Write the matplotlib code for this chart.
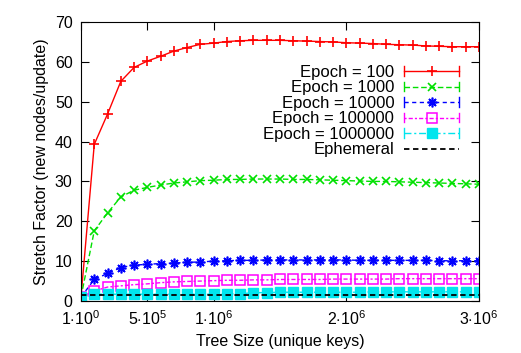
import numpy as np
import matplotlib
matplotlib.use("Agg")
import matplotlib.pyplot as plt
from matplotlib.lines import Line2D
from matplotlib.legend_handler import HandlerLine2D

plt.rcParams['font.family'] = ['Liberation Sans', 'DejaVu Sans']
plt.rcParams['mathtext.fontset'] = 'custom'
plt.rcParams['mathtext.rm'] = 'Liberation Sans'
plt.rcParams['mathtext.it'] = 'Liberation Sans'

# tree size: 1, then every 100k keys up to 3M
tree_size = [1] + [k * 100000 for k in range(1, 31)]

epoch_100 = [1.0, 39.3, 46.9, 55.1, 58.6, 60.2, 61.4, 62.7, 63.6, 64.4, 64.7,
             65.1, 65.3, 65.4, 65.4, 65.4, 65.3, 65.2, 65.1, 65.0, 64.8,
             64.7, 64.6, 64.4, 64.3, 64.2, 64.0, 63.9, 63.8, 63.8, 63.8]
epoch_1000 = [1.0, 17.6, 22.1, 26.1, 27.8, 28.5, 29.1, 29.6, 29.9, 30.2, 30.3,
              30.5, 30.5, 30.6, 30.6, 30.6, 30.5, 30.5, 30.4, 30.3, 30.2,
              30.1, 30.0, 30.0, 29.9, 29.8, 29.7, 29.6, 29.5, 29.4, 29.3]
epoch_10000 = [1.0, 5.4, 6.9, 8.4, 9.0, 9.2, 9.4, 9.5, 9.7, 9.8, 10.0,
               10.1, 10.2, 10.2, 10.3, 10.3, 10.3, 10.3, 10.3, 10.3, 10.3,
               10.2, 10.2, 10.2, 10.2, 10.2, 10.2, 10.1, 10.1, 10.1, 10.1]
epoch_100000 = [1.0, 2.5, 3.5, 3.8, 4.1, 4.3, 4.6, 4.8, 4.9, 5.0, 5.1,
                5.2, 5.2, 5.3, 5.3, 5.4, 5.4, 5.4, 5.4, 5.5, 5.5,
                5.5, 5.5, 5.5, 5.6, 5.6, 5.6, 5.6, 5.6, 5.6, 5.6]
epoch_1000000 = [1.0, 1.7, 1.7, 1.7, 1.7, 1.7, 1.7, 1.7, 1.7, 1.7, 1.7,
                 1.8, 1.8, 2.1, 2.1, 2.2, 2.2, 2.2, 2.2, 2.2, 2.2,
                 2.2, 2.3, 2.3, 2.3, 2.3, 2.3, 2.3, 2.3, 2.3, 2.3]
ephemeral = [1.6] * 31

xticks = [0, 500000, 1000000, 2000000, 3000000]
xticklabels = [r'$1{\cdot}10^{0}$', r'$5{\cdot}10^{5}$', r'$1{\cdot}10^{6}$',
               r'$2{\cdot}10^{6}$', r'$3{\cdot}10^{6}$']


class CapHandler(HandlerLine2D):
    # gnuplot style errorlines key: line with small vertical caps at the ends
    def create_artists(self, legend, orig_handle, xdescent, ydescent,
                       width, height, fontsize, trans):
        arts = super().create_artists(legend, orig_handle, xdescent, ydescent,
                                      width, height, fontsize, trans)
        y0 = height / 2.0 - ydescent
        h = 0.28 * fontsize
        for xx in (-xdescent, -xdescent + width):
            cap = Line2D([xx, xx], [y0 - h, y0 + h],
                         color=orig_handle.get_color(), lw=1.0,
                         transform=trans)
            arts.append(cap)
        return arts


fig = plt.figure(figsize=(5.21, 3.53), dpi=100)
ax = fig.add_axes([81 / 521, 52 / 353, 398 / 521, 279 / 353])

l1, = ax.plot(tree_size, epoch_100, color='#ff0000', ls='-', lw=1,
              marker='+', ms=7, mew=1.2, label='Epoch = 100')
l2, = ax.plot(tree_size, epoch_1000, color='#00e000', ls=(0, (4, 2)), lw=1,
              marker='x', ms=6, mew=1.2, label='Epoch = 1000')
l3, = ax.plot(tree_size, epoch_10000, color='#0000ff', ls=(0, (3, 2.5)), lw=1,
              marker=(8, 2, 0), ms=7, mew=1.2, label='Epoch = 10000')
l4, = ax.plot(tree_size, epoch_100000, color='#ff00ff', ls=(0, (1.5, 1.5, 3, 1.5)),
              lw=1, marker='s', ms=6.5, mfc='none', mew=1.1,
              label='Epoch = 100000')
l5, = ax.plot(tree_size, epoch_1000000, color='#00e5ee', ls=(0, (5, 2, 1.5, 2)),
              lw=1, marker='s', ms=6.5, label='Epoch = 1000000')
l6, = ax.plot(tree_size, ephemeral, color='black', ls=(0, (3, 2)), lw=1.3,
              label='Ephemeral')

ax.set_xlim(0, 3000000)
ax.set_ylim(0, 70)
ax.set_xticks(xticks)
ax.set_xticklabels(xticklabels)
ax.set_yticks(np.arange(0, 71, 10))
ax.tick_params(direction='in', top=True, right=True, length=6, labelsize=11.5,
               pad=6)
ax.set_xlabel('Tree Size (unique keys)', fontsize=11.5)
ax.set_ylabel('Stretch Factor (new nodes/update)', fontsize=11.5)

hm = {h: CapHandler() for h in (l1, l2, l3, l4, l5)}
ax.legend(handles=[l1, l2, l3, l4, l5, l6], handler_map=hm,
          loc='upper right', bbox_to_anchor=(0.967, 0.87), frameon=False,
          markerfirst=False, fontsize=12, handlelength=3.3,
          labelspacing=0.03, handletextpad=0.6, borderaxespad=0)

fig.savefig('out.png', dpi=100)
